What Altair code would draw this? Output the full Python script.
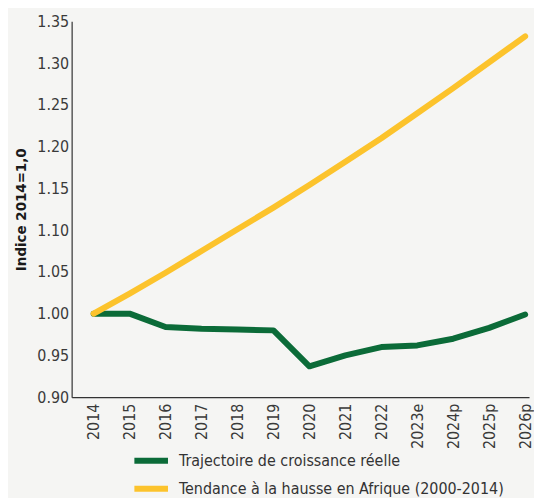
import altair as alt
import pandas as pd

years = ["2014", "2015", "2016", "2017", "2018", "2019", "2020", "2021",
         "2022", "2023e", "2024p", "2025p", "2026p"]
reelle = [1.000, 1.000, 0.984, 0.982, 0.981, 0.980, 0.937, 0.950,
          0.960, 0.962, 0.970, 0.983, 0.999]
tendance = [1.000, 1.024, 1.049, 1.075, 1.101, 1.127, 1.154, 1.182,
            1.210, 1.240, 1.270, 1.301, 1.332]
series = ["Trajectoire de croissance réelle",
          "Tendance à la hausse en Afrique (2000-2014)"]
colors = ["#0b6b38", "#fcc32c"]

rows = []
for s, vals in zip(series, [reelle, tendance]):
    for i, (y, v) in enumerate(zip(years, vals)):
        rows.append({"annee": y, "indice": v, "serie": s, "o": i})
df = pd.DataFrame(rows)

FONT = "DejaVu Sans Condensed, Liberation Sans, sans-serif"

chart = alt.Chart(df).mark_line(
    strokeWidth=6, strokeCap="round", strokeJoin="round"
).encode(
    x=alt.X("annee:N", sort=years, title=None,
            scale=alt.Scale(type="point", padding=0.36, align=0.85),
            axis=alt.Axis(labelAngle=-90, ticks=False, labelPadding=6,
                          labelAlign="right", labelBaseline="middle")),
    y=alt.Y("indice:Q", title="Indice 2014=1,0",
            scale=alt.Scale(domain=[0.9, 1.35], nice=False, zero=False),
            axis=alt.Axis(values=[0.9, 0.95, 1.0, 1.05, 1.1, 1.15, 1.2, 1.25, 1.3, 1.35],
                          format=".2f", ticks=False, grid=False, labelPadding=3,
                          titlePadding=8)),
    color=alt.Color("serie:N", sort=series,
                    scale=alt.Scale(domain=series, range=colors),
                    legend=alt.Legend(title=None, orient="none", direction="vertical",
                                      legendX=64, legendY=426,
                                      symbolType="M-1.3,0H1.3", symbolStrokeWidth=6,
                                      symbolSize=676, labelFontSize=16,
                                      labelFont=FONT, labelColor="#333333",
                                      labelLimit=0, rowPadding=0, labelOffset=12)),
    order="o:Q",
).properties(
    width=460, height=378,
    padding={"left": 5, "top": 4, "right": 0, "bottom": 0},
    background="#f5f5f3",
).configure_view(
    stroke=None
).configure_axis(
    labelFont=FONT, labelFontSize=16, labelColor="#3a3a3a",
    titleFont=FONT, titleFontSize=15, titleColor="#1a1a1a", titleFontWeight="bold",
    domainColor="#333333", domainWidth=1.2, grid=False
)

chart.save("out.html", embed_options={"renderer": "svg", "actions": False})
